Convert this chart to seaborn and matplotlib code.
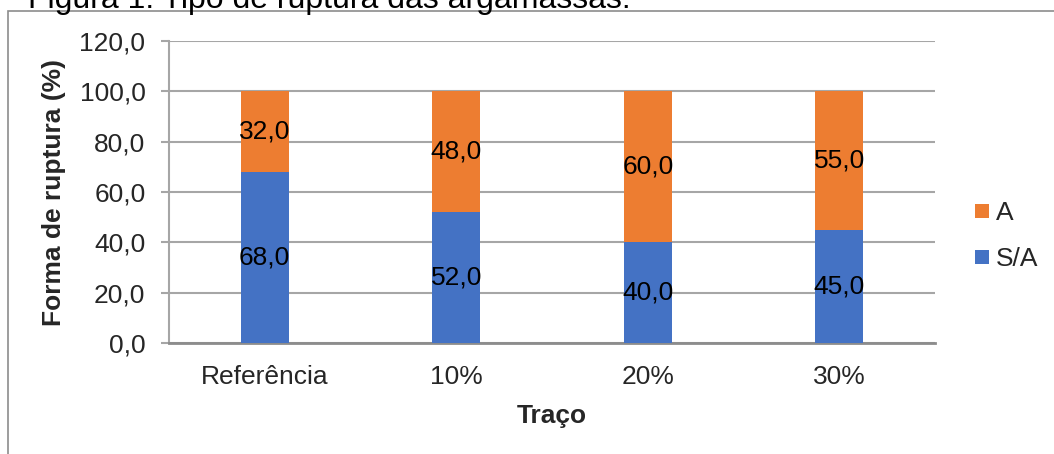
import matplotlib
matplotlib.use("Agg")
import matplotlib.pyplot as plt
from matplotlib.patches import Rectangle
from matplotlib.lines import Line2D
import seaborn as sns
import pandas as pd

# Data
tracos = ["Referência", "10%", "20%", "30%"]
sem_aderencia = [68.0, 52.0, 40.0, 45.0]   # S/A
aderencia = [32.0, 48.0, 60.0, 55.0]       # A
y_ticks = [0, 20, 40, 60, 80, 100, 120]

COR_SA = "#4472C4"
COR_A = "#ED7D31"
GRID = "#a6a6a6"
FS = 19

sns.set_theme(style="white")
plt.rcParams["font.family"] = ["Liberation Sans", "DejaVu Sans"]

df = pd.DataFrame({"Traço": tracos, "S/A": sem_aderencia, "A": aderencia})

fig = plt.figure(figsize=(10.54, 4.54), dpi=100)
ax = fig.add_axes([169 / 1054, 1 - 343 / 454, (935 - 169) / 1054, (343 - 41) / 454])

sns.barplot(data=df, x="Traço", y="S/A", color=COR_SA, width=0.25,
            saturation=1, ax=ax, zorder=3, linewidth=0)
sns.barplot(data=df, x="Traço", y="A", color=COR_A, width=0.25,
            saturation=1, ax=ax, zorder=3, linewidth=0, bottom=df["S/A"])

fmt = lambda v: f"{v:.1f}".replace(".", ",")
for i, (sa, a) in enumerate(zip(sem_aderencia, aderencia)):
    ax.text(i, sa / 2, fmt(sa), ha="center", va="center", fontsize=FS,
            color="black", zorder=4)
    ax.text(i, sa + a / 2, fmt(a), ha="center", va="center", fontsize=FS,
            color="black", zorder=4)

ax.set_ylim(0, 120)
ax.set_xlim(-0.5, 3.5)
ax.set_yticks(y_ticks)
ax.set_yticklabels([fmt(v) for v in y_ticks], fontsize=FS)
ax.set_xticks(range(len(tracos)))
ax.set_xticklabels(tracos, fontsize=FS)
ax.yaxis.grid(True, color=GRID, linewidth=1.5, zorder=0)
ax.set_axisbelow(True)
ax.tick_params(axis="y", length=6, width=1.5, color=GRID, pad=11, left=True)
ax.tick_params(axis="x", length=0, pad=16)

for s in ["top", "right"]:
    ax.spines[s].set_visible(False)
ax.spines["left"].set_color(GRID)
ax.spines["left"].set_linewidth(1.5)
ax.spines["bottom"].set_color("#8c8c8c")
ax.spines["bottom"].set_linewidth(2)

ax.set_xlabel("Traço", fontsize=FS, fontweight="bold", labelpad=11)
ax.set_ylabel("Forma de ruptura (%)", fontsize=FS, fontweight="bold", labelpad=10)

handles = [
    Line2D([], [], marker="s", linestyle="none", markersize=9.5,
           markerfacecolor=COR_A, markeredgewidth=0, label="A"),
    Line2D([], [], marker="s", linestyle="none", markersize=9.5,
           markerfacecolor=COR_SA, markeredgewidth=0, label="S/A"),
]
fig.legend(handles=handles, loc="center left",
           bbox_to_anchor=(956 / 1054, 1 - 236 / 454), frameon=False,
           fontsize=FS, handletextpad=-0.1, labelspacing=0.85, handlelength=1.2,
           borderaxespad=0)

# Outer frame around the chart
fig.add_artist(Rectangle((7.5 / 1054, -0.1), 1.2, 1.1 - 11.5 / 454,
                         transform=fig.transFigure, fill=False,
                         edgecolor="#8c8c8c", linewidth=1.2, clip_on=False))

# Caption line above the frame
fig.text(28 / 1054, 1 - 8 / 454, "Figura 1. Tipo de ruptura das argamassas.",
         fontsize=23, ha="left", va="baseline", color="black")

fig.savefig("out.png", dpi=100)
